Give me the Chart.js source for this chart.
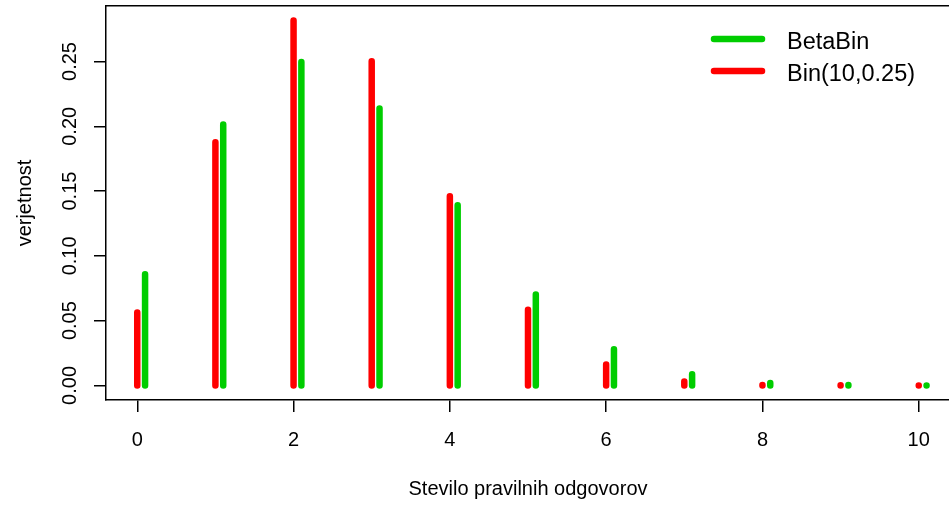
<!DOCTYPE html>
<html>
<head>
<meta charset="utf-8">
<script src="https://cdn.jsdelivr.net/npm/chart.js@4"></script>
<style>
  html, body { margin: 0; padding: 0; background: #fff; overflow: hidden; }
  #wrap { width: 949px; height: 508px; overflow: hidden; }
  canvas { display: block; }
</style>
</head>
<body>
<div id="wrap"><canvas id="c" width="952" height="508"></canvas></div>
<script>
// ---- data ----
const categories = [0, 1, 2, 3, 4, 5, 6, 7, 8, 9, 10];
const binValues = [0.0563, 0.1877, 0.2816, 0.2503, 0.1460, 0.0584, 0.0162, 0.0031, 0.0004, 0.00003, 0.000001];
const betaBinValues = [0.0859, 0.2014, 0.2497, 0.2137, 0.1391, 0.0702, 0.0280, 0.0087, 0.0018, 0.0003, 0.00002];
const xTicks = [0, 2, 4, 6, 8, 10];
const yTicks = [0.00, 0.05, 0.10, 0.15, 0.20, 0.25];
const yTickLabels = ['0.00', '0.05', '0.10', '0.15', '0.20', '0.25'];
const seriesNames = ['BetaBin', 'Bin(10,0.25)'];
const xLabel = 'Stevilo pravilnih odgovorov';
const yLabel = 'verjetnost';

const RED = '#FF0000';
const GREEN = '#00CD00';
const GREEN_SHIFT = 0.1;

// build vertical "h"-type spikes as line segments separated by gaps
function spikes(values, shift) {
  const pts = [];
  categories.forEach((k, i) => {
    pts.push({ x: k + shift, y: 0 });
    pts.push({ x: k + shift, y: values[i] });
    pts.push({ x: k + shift, y: null });
  });
  return pts;
}

Chart.defaults.font.family = "'Liberation Sans', Arial, sans-serif";
Chart.defaults.color = '#000';

const legendPlugin = {
  id: 'rLegend',
  afterDraw(chart) {
    const ctx = chart.ctx;
    const items = [
      { text: seriesNames[0], color: GREEN, y: 39 },
      { text: seriesNames[1], color: RED, y: 71 }
    ];
    ctx.save();
    items.forEach(it => {
      ctx.strokeStyle = it.color;
      ctx.lineWidth = 6.5;
      ctx.lineCap = 'round';
      ctx.beginPath();
      ctx.moveTo(714, it.y);
      ctx.lineTo(762, it.y);
      ctx.stroke();
      ctx.fillStyle = '#000';
      ctx.font = "23.5px 'Liberation Sans', Arial, sans-serif";
      ctx.textBaseline = 'alphabetic';
      ctx.textAlign = 'left';
      ctx.fillText(it.text, 787, it.y + 10);
    });
    ctx.restore();
  }
};

new Chart(document.getElementById('c'), {
  type: 'line',
  data: {
    datasets: [
      {
        label: seriesNames[1],
        data: spikes(binValues, 0),
        borderColor: RED,
        borderWidth: 6.5,
        borderCapStyle: 'round',
        pointRadius: 0,
        spanGaps: false,
        fill: false
      },
      {
        label: seriesNames[0],
        data: spikes(betaBinValues, GREEN_SHIFT),
        borderColor: GREEN,
        borderWidth: 6.5,
        borderCapStyle: 'round',
        pointRadius: 0,
        spanGaps: false,
        fill: false
      }
    ]
  },
  options: {
    responsive: false,
    animation: false,
    devicePixelRatio: 1,
    events: [],
    layout: { padding: { top: 6, right: 2, left: 0, bottom: 0 } },
    plugins: { legend: { display: false }, tooltip: { enabled: false } },
    scales: {
      x: {
        type: 'linear',
        position: 'bottom',
        min: -0.4,
        max: 10.4,
        afterBuildTicks: s => { s.ticks = xTicks.map(v => ({ value: v })); },
        afterFit: s => { s.height = 108; s.paddingLeft = 0; s.paddingRight = 0; },
        ticks: {
          autoSkip: false, maxRotation: 0, minRotation: 0,
          padding: 16,
          font: { size: 20 },
          color: '#000',
          callback: v => String(v)
        },
        grid: { display: true, drawOnChartArea: false, drawTicks: true, tickLength: 12, color: '#000', lineWidth: 1.5 },
        border: { display: true, color: '#000', width: 1.5 },
        title: { display: true, text: xLabel, font: { size: 20 }, color: '#000', padding: { top: 0, bottom: 7 } }
      },
      xTop: {
        type: 'linear',
        position: 'top',
        min: -0.4,
        max: 10.4,
        afterFit: s => { s.height = 0; s.paddingLeft = 0; s.paddingRight = 0; },
        ticks: { display: false },
        grid: { display: false, drawTicks: false },
        border: { display: true, color: '#000', width: 1.5 }
      },
      y: {
        type: 'linear',
        position: 'left',
        min: -0.01126,
        max: 0.29286,
        afterBuildTicks: s => { s.ticks = yTicks.map(v => ({ value: v })); },
        afterFit: s => { s.width = 106; s.paddingTop = 0; s.paddingBottom = 0; },
        ticks: {
          minRotation: 90, maxRotation: 90,
          crossAlign: 'center',
          padding: 4,
          font: { size: 20 },
          color: '#000',
          callback: (v, i) => yTickLabels[i]
        },
        grid: { display: true, drawOnChartArea: false, drawTicks: true, tickLength: 12, color: '#000', lineWidth: 1.5 },
        border: { display: true, color: '#000', width: 1.5 },
        title: { display: true, text: yLabel, font: { size: 20 }, color: '#000', padding: { top: 13.6, bottom: 0 } }
      }
    }
  },
  plugins: [legendPlugin]
});
</script>
</body>
</html>
